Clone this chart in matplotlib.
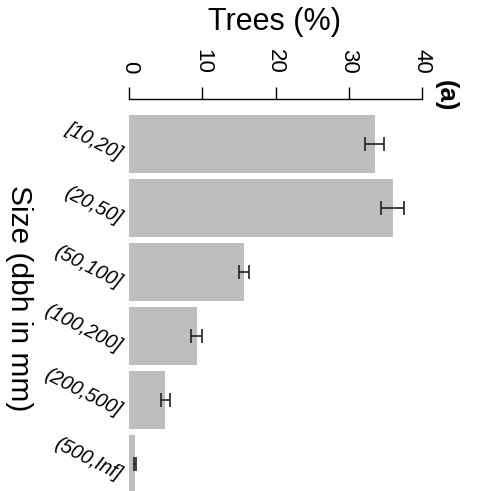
import matplotlib
matplotlib.use("Agg")
import matplotlib.pyplot as plt
import matplotlib.transforms as mtransforms
import numpy as np

plt.rcParams["font.family"] = ["Liberation Sans", "DejaVu Sans"]

# data
size_classes = ["[10,20]", "(20,50]", "(50,100]", "(100,200]", "(200,500]", "(500,Inf]"]
trees_pct = [33.6, 36.1, 15.7, 9.3, 4.9, 0.8]
err_low = [32.2, 34.5, 15.0, 8.5, 4.3, 0.65]
err_high = [34.9, 37.6, 16.4, 10.0, 5.6, 0.95]
x_ticks = [0, 10, 20, 30, 40]


def main() -> None:
    fig = plt.figure(figsize=(4.78, 4.91), dpi=100)
    W, H = 478.0, 491.0
    ax = fig.add_axes([129.3 / W, 0.0, 292.4 / W, 1 - 99.0 / H])

    vals = np.array(trees_pct)
    lo = np.array(err_low)
    hi = np.array(err_high)
    pos = np.arange(len(vals)) * 1.1

    ax.barh(pos, vals, height=1.0, color="#BEBEBE", zorder=1)
    ax.errorbar(vals, pos, xerr=[vals - lo, hi - vals], fmt="none",
                ecolor="#222222", elinewidth=1.2, capsize=5, capthick=1.2, zorder=2)

    ax.set_xlim(0, 40)
    ax.set_ylim(5.963, -0.775)

    for s in ["left", "right", "bottom"]:
        ax.spines[s].set_visible(False)
    ax.spines["top"].set_bounds(0, 40)
    ax.spines["top"].set_linewidth(1.0)

    ax.xaxis.tick_top()
    ax.set_xticks(x_ticks)
    ax.set_xticklabels([str(t) for t in x_ticks], rotation=-90, fontsize=16)
    ax.tick_params(axis="x", length=8.6, width=1.0, pad=9.5)
    ax.set_yticks([])

    # slanted category labels
    for p, lab in zip(pos, size_classes):
        tr = mtransforms.offset_copy(ax.get_yaxis_transform(), fig=fig,
                                     x=-9, y=-11, units="dots")
        ax.text(0, p, lab, transform=tr, rotation=-27, rotation_mode="anchor",
                ha="right", va="center", fontsize=14.3, style="italic")

    fig.text(275.0 / W, 1 - 30.0 / H, "Trees (%)", ha="center", va="baseline", fontsize=22)
    fig.text(19.0 / W, 1 - 298.0 / H, "Size (dbh in mm)", ha="center", va="center",
             rotation=-90, fontsize=21.5)
    fig.text(446.0 / W, 1 - 96.0 / H, "(a)", ha="center", va="center",
             rotation=-90, fontsize=18.5, fontweight="bold")

    fig.savefig("out.png", dpi=100)
    plt.close(fig)


if __name__ == "__main__":
    main()
